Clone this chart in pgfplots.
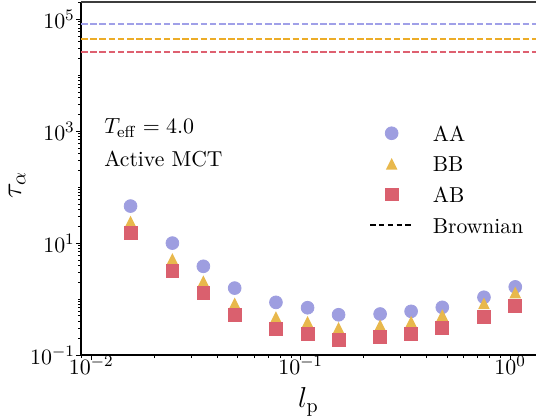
\documentclass[border=0pt]{standalone}
\usepackage{pgfplots}
\pgfplotsset{compat=1.18}
\definecolor{cAA}{RGB}{158,158,224}
\definecolor{cBB}{RGB}{232,184,76}
\definecolor{cAB}{RGB}{218,96,110}
\definecolor{dAA}{RGB}{160,160,232}
\definecolor{dBB}{RGB}{236,172,40}
\definecolor{dAB}{RGB}{222,96,112}
\definecolor{spine}{RGB}{60,60,60}
\pgfdeclareplotmark{mtri}{%
  \pgfpathmoveto{\pgfqpoint{0pt}{\pgfplotmarksize}}%
  \pgfpathlineto{\pgfqpoint{-\pgfplotmarksize}{-\pgfplotmarksize}}%
  \pgfpathlineto{\pgfqpoint{\pgfplotmarksize}{-\pgfplotmarksize}}%
  \pgfpathclose\pgfusepathqfill}
\pgfplotsset{
  markleg/.style={legend image code/.code={\draw[##1] plot coordinates {(10.75pt,0pt)};}},
  lineleg/.style={legend image code/.code={\draw[##1] (0pt,0pt) -- (21.5pt,0pt);}},
}
\pgfplotstableread{
x       AA     BB     AB
0.0154  45.9   24.3   15.2
0.0244  10.0   5.22   3.21
0.0343  3.85   2.09   1.27
0.0484  1.57   0.837  0.518
0.0762  0.873  0.477  0.296
0.1079  0.700  0.393  0.238
0.1517  0.524  0.305  0.188
0.2396  0.540  0.341  0.210
0.3369  0.603  0.393  0.242
0.4746  0.711  0.518  0.305
0.7506  1.077  0.837  0.477
1.059   1.65   1.31   0.750
}\datatab
\begin{document}
\begin{tikzpicture}
\begin{axis}[
  scale only axis, width=227.5pt, height=176.5pt,
  xmode=log, ymode=log,
  xmin=0.00893, xmax=1.33, ymin=0.1, ymax=2.04e5,
  axis lines=left, axis line style={-, line width=0.7pt, black},
  ytick={0.1,10,1000,100000},
  minor ytick={0.2,0.3,0.4,0.5,0.6,0.7,0.8,0.9,1,2,3,4,5,6,7,8,9,20,30,40,50,60,70,80,90,100,200,300,400,500,600,700,800,900,2000,3000,4000,5000,6000,7000,8000,9000,10000,20000,30000,40000,50000,60000,70000,80000,90000,200000},
  tick align=outside, major tick length=2.6pt, minor tick length=1.5pt,
  tick style={black, line width=0.5pt}, minor tick style={line width=0.4pt},
  tick label style={font=\fontsize{10.8}{13}\selectfont},
  xticklabel style={yshift=5.5pt},
  yticklabel style={xshift=3pt},
  label style={font=\fontsize{14.5}{17}\selectfont},
  xlabel={$l_{\mathrm{p}}$}, ylabel={$\tau_\alpha$},
  xlabel style={at={(axis description cs:0.5,-0.133)}, anchor=center},
  ylabel style={at={(axis description cs:-0.1407,0.4816)}, anchor=center},
  clip=false,
  legend cell align=left,
  legend style={draw=none, fill=none, at={(axis description cs:0.633,0.652)}, anchor=north west,
    inner sep=0pt, font=\fontsize{10.8}{13}\selectfont,
    nodes={inner sep=0pt, text height=8pt, text depth=0pt},
    /tikz/row sep=7.3pt, /tikz/column 1/.style={column sep=9.5pt}},
]
\coordinate (bbA) at ([xshift=-40.5pt,yshift=-31.5pt]rel axis cs:0,0);
\coordinate (bbB) at ([yshift=1pt]rel axis cs:1,1);
\draw[spine, line width=0.9pt] (rel axis cs:0,1) -- (rel axis cs:1,1);
\addplot[draw=dAA, dash pattern=on 3.3pt off 1.3pt, line width=0.9pt, forget plot] coordinates {(0.00893,8.38e4) (1.33,8.38e4)};
\addplot[draw=dBB, dash pattern=on 3.3pt off 1.3pt, line width=1pt, forget plot] coordinates {(0.00893,4.37e4) (1.33,4.37e4)};
\addplot[draw=dAB, dash pattern=on 3.3pt off 1.3pt, line width=0.9pt, forget plot] coordinates {(0.00893,2.63e4) (1.33,2.63e4)};
\addplot[only marks, mark=*, mark size=3.2pt, cAA, mark options={draw=none, fill=cAA}, markleg] table[x=x,y=AA] {\datatab};
\addlegendentry{AA}
\addplot[only marks, mark=mtri, mark size=2.9pt, cBB, mark options={fill=cBB}, markleg] table[x=x,y=BB] {\datatab};
\addlegendentry{BB}
\addplot[only marks, mark=square*, mark size=3.2pt, cAB, mark options={draw=none, fill=cAB}, markleg] table[x=x,y=AB] {\datatab};
\addlegendentry{AB}
\addlegendimage{black, dash pattern=on 2.7pt off 1.7pt, line width=0.75pt, lineleg}
\addlegendentry{Brownian}
\node[anchor=west, font=\fontsize{10.8}{13}\selectfont, inner sep=0pt] at (axis description cs:0.0505,0.643) {$T_{\mathrm{eff}}=4.0$};
\node[anchor=west, font=\fontsize{10.8}{13}\selectfont, inner sep=0pt] at (axis description cs:0.0505,0.555) {Active MCT};
\end{axis}
\pgfresetboundingbox
\path[use as bounding box] (bbA) rectangle (bbB);
\end{tikzpicture}
\end{document}
